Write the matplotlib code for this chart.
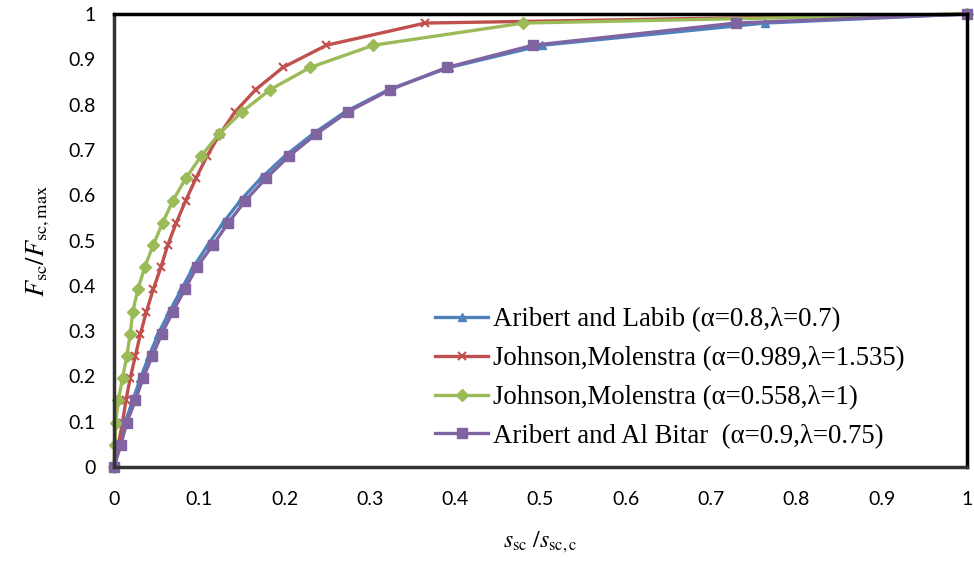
import matplotlib
matplotlib.use("Agg")
import matplotlib.pyplot as plt

# ---- data ----
labib_x = [0, 0.007, 0.013, 0.022, 0.031, 0.041, 0.052, 0.065, 0.079, 0.093, 0.110,
           0.128, 0.148, 0.172, 0.200, 0.233, 0.271, 0.322, 0.393, 0.502, 0.763, 1.0]
labib_y = [0, 0.049, 0.098, 0.147, 0.196, 0.245, 0.294, 0.343, 0.392, 0.441, 0.490,
           0.539, 0.588, 0.637, 0.686, 0.735, 0.784, 0.833, 0.882, 0.931, 0.980, 1.0]

jm1_x = [0, 0.005, 0.010, 0.014, 0.019, 0.025, 0.031, 0.038, 0.046, 0.055, 0.063,
         0.073, 0.084, 0.096, 0.109, 0.124, 0.142, 0.166, 0.198, 0.249, 0.365, 1.0]
jm1_y = [0, 0.049, 0.098, 0.147, 0.196, 0.245, 0.294, 0.343, 0.392, 0.441, 0.490,
         0.539, 0.588, 0.637, 0.686, 0.735, 0.784, 0.833, 0.882, 0.931, 0.980, 1.0]

jm2_x = [0, 0.001, 0.002, 0.005, 0.010, 0.015, 0.019, 0.022, 0.028, 0.036, 0.046,
         0.057, 0.069, 0.084, 0.102, 0.123, 0.150, 0.183, 0.230, 0.304, 0.480, 1.0]
jm2_y = [0, 0.049, 0.098, 0.147, 0.196, 0.245, 0.294, 0.343, 0.392, 0.441, 0.490,
         0.539, 0.588, 0.637, 0.686, 0.735, 0.784, 0.833, 0.882, 0.931, 0.980, 1.0]

bitar_x = [0, 0.008, 0.015, 0.025, 0.034, 0.045, 0.056, 0.069, 0.083, 0.097, 0.116,
           0.134, 0.154, 0.178, 0.205, 0.237, 0.274, 0.324, 0.390, 0.491, 0.729, 1.0]
bitar_y = [0, 0.049, 0.098, 0.147, 0.196, 0.245, 0.294, 0.343, 0.392, 0.441, 0.490,
           0.539, 0.588, 0.637, 0.686, 0.735, 0.784, 0.833, 0.882, 0.931, 0.980, 1.0]

labels = ["Aribert and Labib (\u03b1=0.8,\u03bb=0.7)",
          "Johnson,Molenstra (\u03b1=0.989,\u03bb=1.535)",
          "Johnson,Molenstra (\u03b1=0.558,\u03bb=1)",
          "Aribert and Al Bitar  (\u03b1=0.9,\u03bb=0.75)"]
ticks = [0, 0.1, 0.2, 0.3, 0.4, 0.5, 0.6, 0.7, 0.8, 0.9, 1]
tick_labels = ["0", "0.1", "0.2", "0.3", "0.4", "0.5", "0.6", "0.7", "0.8", "0.9", "1"]

plt.rcParams['mathtext.fontset'] = 'stix'

fig = plt.figure(figsize=(9.74, 5.64), dpi=100)
ax = fig.add_axes([114/974, 1-467/564, (967-114)/974, (467-14)/564])

lw = 2.4
ax.plot(labib_x, labib_y, color='#4F81BD', lw=lw, marker='^', ms=6, label=labels[0])
ax.plot(jm1_x, jm1_y, color='#C0504D', lw=lw, marker='x', ms=6, mew=1.5, label=labels[1])
ax.plot(jm2_x, jm2_y, color='#9BBB59', lw=lw, marker='D', ms=6.5, label=labels[2])
ax.plot(bitar_x, bitar_y, color='#8064A2', lw=lw, marker='s', ms=6.5, label=labels[3])

ax.set_xlim(0, 1)
ax.set_ylim(0, 1)
ax.set_xticks(ticks)
ax.set_xticklabels(tick_labels)
ax.set_yticks(ticks)
ax.set_yticklabels(tick_labels)
ax.tick_params(length=0, labelsize=14)
ax.tick_params(axis='x', pad=17)
ax.tick_params(axis='y', pad=13)
for t in ax.get_xticklabels() + ax.get_yticklabels():
    t.set_fontfamily('Lato')

for s in ax.spines.values():
    s.set_color('black')
    s.set_linewidth(2.5)
ax.spines['left'].set_color('#333333')
ax.spines['bottom'].set_color('#333333')

for l in ax.lines:
    l.set_clip_on(False)

ax.set_ylabel(r"$F_{\rm sc}/F_{\rm sc,max}$", fontsize=19, labelpad=12)
ax.set_xlabel(r"$s_{\rm sc}\ /s_{\rm sc,c}$", fontsize=17, labelpad=16)

leg = ax.legend(loc='upper left', bbox_to_anchor=(435/974, 1-307/564),
                bbox_transform=fig.transFigure, frameon=False,
                prop={'family': 'Liberation Serif', 'size': 19.3},
                handlelength=1.98, handletextpad=0.2, labelspacing=0.52,
                borderaxespad=0, borderpad=0, numpoints=1)

fig.savefig("out.png", dpi=100)
